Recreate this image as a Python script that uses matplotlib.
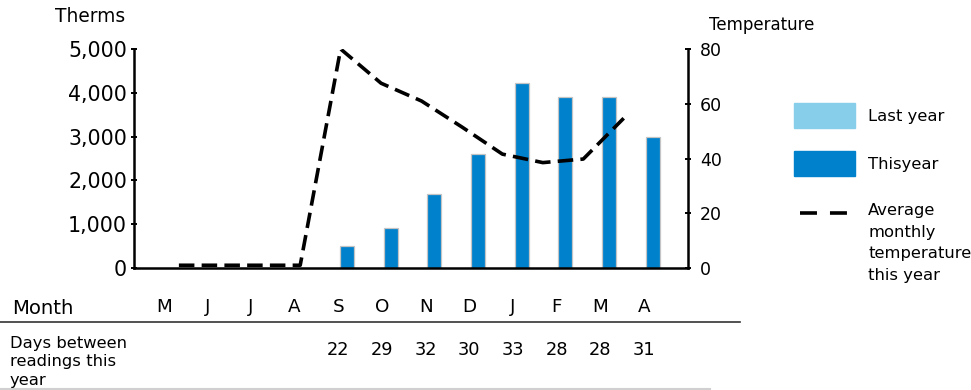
import numpy as np
import matplotlib
matplotlib.use("Agg")
import matplotlib.pyplot as plt
from matplotlib.lines import Line2D
from matplotlib.patches import Rectangle
from matplotlib.ticker import FuncFormatter
from matplotlib.transforms import blended_transform_factory

plt.rcParams['font.family'] = ['DejaVu Sans']

# ---- data ----
months = ["M", "J", "J", "A", "S", "O", "N", "D", "J", "F", "M", "A"]
therms_this_year = [np.nan, np.nan, np.nan, np.nan, 510, 920, 1690, 2600, 4220, 3900, 3910, 3000]
therms_last_year = [np.nan] * 12
avg_temperature = [1, 1, 1, 1, 80, 67.5, 61, 51.5, 41.6, 38.5, 39.8, 54.7]
days_between = ["", "", "", "", "22", "29", "32", "30", "33", "28", "28", "31"]
therm_ticks = [0, 1000, 2000, 3000, 4000, 5000]
temp_ticks = [0, 20, 40, 60, 80]

LIGHT = "#87CEEB"
DARK = "#0081CC"
W, H = 971, 390


def fx(px):
    return px / W


def fy(py):
    return 1 - py / H


fig = plt.figure(figsize=(W / 100, H / 100), dpi=100)
rect = [fx(134), fy(268), fx(688) - fx(134), fy(49) - fy(268)]

# ---- therms bars ----
ax = fig.add_axes(rect)
x = np.arange(len(months))
ax.bar(x, therms_last_year, width=0.32, color=LIGHT)
ax.bar(x, therms_this_year, width=0.32, color=DARK, edgecolor="#C4C4C4", linewidth=0.9)
ax.set_xlim(-0.88, 11.81)
ax.set_ylim(0, 5000)
for s in ("top", "right"):
    ax.spines[s].set_visible(False)
for s in ("left", "bottom"):
    ax.spines[s].set_linewidth(1.8)
    ax.spines[s].set_color("black")
ax.set_xticks([])
ax.set_yticks(therm_ticks)
ax.yaxis.set_major_formatter(FuncFormatter(lambda v, p: f"{int(v):,}"))
ax.tick_params(axis="y", direction="inout", length=5, width=1.4, labelsize=14.8, pad=2.5)

# ---- temperature line ----
ax2 = fig.add_axes(rect)
ax2.patch.set_visible(False)
ax2.plot(np.arange(len(months)), avg_temperature, color="black", lw=2.6, dashes=(4.3, 2.0))
ax2.set_xlim(-1.11, 12.59)
ax2.set_ylim(0, 80)
for s in ("top", "left", "bottom"):
    ax2.spines[s].set_visible(False)
ax2.spines["right"].set_linewidth(1.8)
ax2.yaxis.tick_right()
ax2.set_xticks([])
ax2.set_yticks(temp_ticks)
ax2.tick_params(axis="y", direction="inout", length=5, width=1.4, labelsize=12.5, pad=6)

# ---- axis titles ----
fig.text(fx(90), fy(16), "Therms", ha="center", va="center", fontsize=13.4)
fig.text(fx(762), fy(25), "Temperature", ha="center", va="center", fontsize=12)

# ---- month / days table ----
trans = blended_transform_factory(ax.transData, fig.transFigure)
fig.text(fx(12), fy(309), "Month", ha="left", va="center", fontsize=14.1)
for i, (m, d) in enumerate(zip(months, days_between)):
    ax.text(i - 0.2, fy(307), m, transform=trans, ha="center", va="center", fontsize=13.2)
    if d:
        ax.text(i - 0.2, fy(350), d, transform=trans, ha="center", va="center", fontsize=12.8)
fig.text(fx(10), fy(336), "Days between\nreadings this\nyear", ha="left", va="top",
         fontsize=11.8, linespacing=1.29)
fig.add_artist(Line2D([0, fx(740)], [fy(321.5), fy(321.5)], color="#333333", lw=1.2))
fig.add_artist(Line2D([0, fx(710)], [fy(388.5), fy(388.5)], color="#D0D0D0", lw=1.5))

# ---- legend ----
fig.add_artist(Rectangle((fx(794), fy(128)), fx(855) - fx(794), 25 / H,
                         transform=fig.transFigure, color=LIGHT))
fig.add_artist(Rectangle((fx(794), fy(176)), fx(855) - fx(794), 25 / H,
                         transform=fig.transFigure, color=DARK))
fig.add_artist(Line2D([fx(800), fx(849)], [fy(213), fy(213)], color="black", lw=2.6,
                      dashes=(4.7, 3.6)))
fig.text(fx(868), fy(117), "Last year", ha="left", va="center", fontsize=11.8)
fig.text(fx(868), fy(164.5), "Thisyear", ha="left", va="center", fontsize=11.8)
fig.text(fx(868), fy(203), "Average\nmonthly\ntemperature\nthis year", ha="left", va="top",
         fontsize=11.8, linespacing=1.55)

fig.savefig("out.png", dpi=100)
